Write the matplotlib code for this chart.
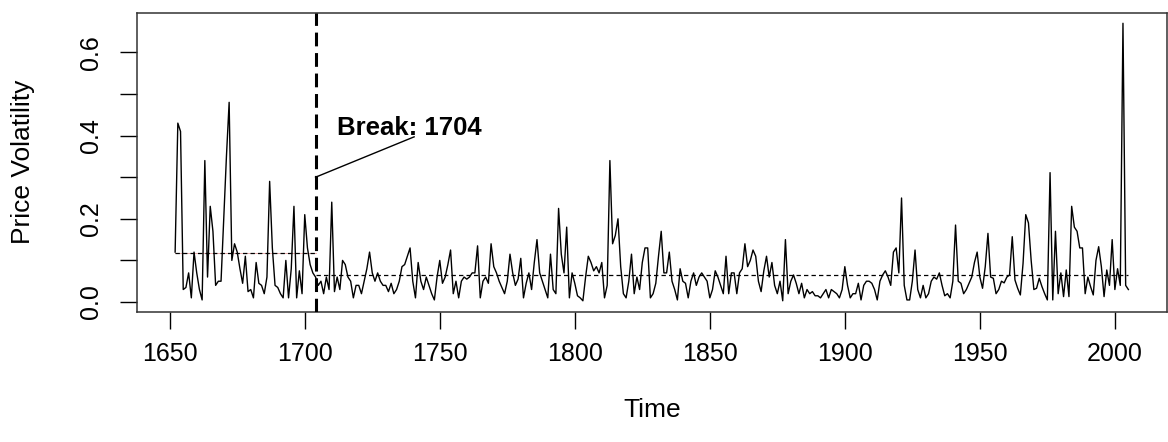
import numpy as np
import matplotlib
matplotlib.use("Agg")
import matplotlib.pyplot as plt

plt.rcParams['font.family'] = ['Liberation Sans', 'DejaVu Sans']

# ---- data ----
start_year = 1652
volatility = [
    # 1652-1659
    .12, .43, .41, .03, .035, .07, .01, .12,
    # 1660s
    .07, .03, .005, .34, .06, .23, .17, .04, .05, .05,
    # 1670s
    .20, .35, .48, .10, .14, .12, .08, .045, .11, .025,
    # 1680s
    .03, .01, .095, .045, .04, .02, .06, .29, .13, .04,
    # 1690s
    .035, .02, .01, .10, .01, .08, .23, .01, .075, .02,
    # 1700s
    .21, .13, .09, .07, .06, .04, .05, .02, .06, .03,
    # 1710s
    .24, .025, .06, .03, .10, .09, .06, .05, .01, .04,
    # 1720s
    .04, .02, .05, .08, .12, .07, .05, .07, .05, .04,
    # 1730s
    .04, .025, .045, .02, .03, .05, .085, .09, .11, .13,
    # 1740s
    .05, .01, .095, .05, .03, .06, .04, .02, .005, .06,
    # 1750s
    .10, .045, .06, .09, .125, .02, .05, .01, .05, .06,
    # 1760s
    .055, .06, .07, .07, .135, .01, .05, .06, .045, .14,
    # 1770s
    .085, .07, .05, .035, .02, .05, .115, .07, .04, .055,
    # 1780s
    .105, .01, .045, .07, .03, .095, .15, .07, .05, .03,
    # 1790s
    .01, .115, .03, .02, .225, .115, .07, .18, .01, .07,
    # 1800s
    .045, .015, .01, .003, .06, .11, .095, .075, .085, .07,
    # 1810s
    .095, .01, .04, .34, .14, .16, .20, .085, .02, .01,
    # 1820s
    .05, .115, .02, .06, .03, .095, .13, .13, .01, .02,
    # 1830s
    .045, .11, .17, .07, .07, .12, .05, .03, .005, .08,
    # 1840s
    .05, .045, .01, .05, .07, .04, .06, .07, .06, .05,
    # 1850s
    .01, .03, .075, .06, .04, .02, .11, .02, .07, .07,
    # 1860s
    .02, .07, .08, .14, .085, .10, .125, .11, .05, .025,
    # 1870s
    .075, .11, .06, .095, .04, .02, .05, .003, .15, .02,
    # 1880s
    .05, .065, .045, .02, .045, .01, .03, .02, .025, .015,
    # 1890s
    .015, .01, .02, .03, .01, .03, .025, .02, .01, .03,
    # 1900s
    .085, .04, .01, .02, .02, .045, .005, .04, .05, .05,
    # 1910s
    .045, .03, .005, .05, .065, .075, .06, .04, .12, .13,
    # 1920s
    .07, .25, .04, .005, .005, .05, .125, .03, .01, .04,
    # 1930s
    .01, .02, .05, .06, .055, .07, .04, .015, .02, .01,
    # 1940s
    .05, .185, .05, .045, .02, .03, .045, .06, .095, .12,
    # 1950s
    .06, .033, .085, .165, .06, .057, .02, .03, .05, .046,
    # 1960s
    .06, .065, .157, .053, .033, .017, .093, .21, .19, .10,
    # 1970s
    .03, .033, .057, .037, .02, .005, .311, .005, .17, .02,
    # 1980s
    .07, .013, .077, .013, .23, .18, .17, .13, .13, .02,
    # 1990s
    .06, .037, .017, .10, .133, .085, .013, .077, .04, .15,
    # 2000-2005
    .03, .08, .04, .67, .04, .03,
]
years = np.arange(start_year, start_year + len(volatility))

break_year = 1704
segment_means = [0.117, 0.064]
break_label = "Break: 1704"

x_ticks = [1650, 1700, 1750, 1800, 1850, 1900, 1950, 2000]
y_ticks = [0.0, 0.1, 0.2, 0.3, 0.4, 0.5, 0.6]
y_ticklabels = ["0.0", "", "0.2", "", "0.4", "", "0.6"]

# ---- figure ----
W, H = 1168, 442
fig = plt.figure(figsize=(W / 100, H / 100), dpi=100)
left_px, right_px, top_px, bottom_px = 137, 1166.5, 13, 312
ax = fig.add_axes([left_px / W, 1 - bottom_px / H,
                   (right_px - left_px) / W, (bottom_px - top_px) / H])

ax.plot(years, volatility, color='black', lw=1.0, zorder=3)

# fitted segment means
first_year, last_year = years[0], years[-1]
ax.plot([first_year, break_year], [segment_means[0]] * 2,
        color='#e6a0a0', lw=0.6, zorder=2)
ax.plot([first_year, break_year], [segment_means[0]] * 2,
        color='black', lw=0.9, dashes=(3.5, 2.5), zorder=4)
ax.plot([break_year, last_year], [segment_means[1]] * 2,
        color='black', lw=0.9, dashes=(3.5, 2.5), zorder=4)

# break line
ax.axvline(break_year, color='black', lw=2.2, dashes=(4.5, 2.2), zorder=5)

# annotation
ax.plot([break_year, 1740.5], [0.30, 0.397], color='black', lw=1.0, zorder=5)
ax.text(1712, 0.418, break_label, fontsize=18.5, fontweight='bold',
        ha='left', va='center', zorder=6)

# R-style default range (4% padding on each side)
span = last_year - first_year
ax.set_xlim(first_year - 0.04 * span, last_year + 0.04 * span)
ax.set_ylim(-0.024, 0.6947)

ax.set_xticks(x_ticks)
ax.set_xticklabels([str(t) for t in x_ticks])
ax.set_yticks(y_ticks)
ax.set_yticklabels(y_ticklabels, rotation=90, va='center')

ax.tick_params(axis='both', direction='out', length=12.5, width=1.0,
               labelsize=18, color='black', labelcolor='black')
ax.tick_params(axis='x', pad=9)
ax.tick_params(axis='y', pad=12)

for sp in ax.spines.values():
    sp.set_linewidth(1.1)
    sp.set_color('#333333')

fig.text(23 / W, 1 - 162 / H, "Price Volatility", rotation=90,
         ha='center', va='center', fontsize=19)
fig.text((left_px + right_px) / 2 / W, 1 - 410 / H, "Time",
         ha='center', va='center', fontsize=19)

fig.savefig("out.png", dpi=100, facecolor='white')
